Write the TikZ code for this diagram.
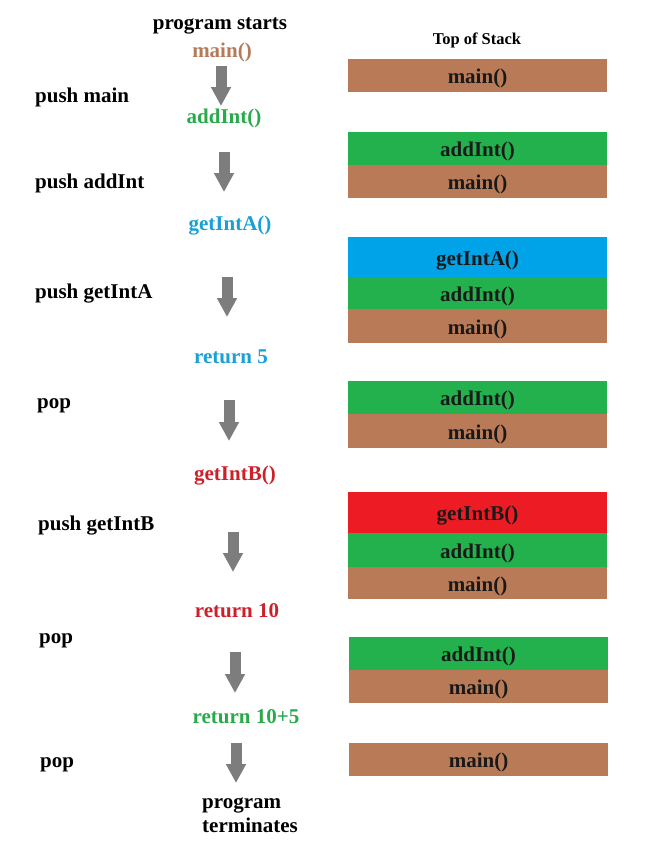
\documentclass[tikz,border=0pt]{standalone}
\usepackage{fontspec}
\setmainfont{Liberation Serif}
\usetikzlibrary{arrows.meta}
\definecolor{cbrown}{RGB}{185,122,87}
\definecolor{cgreen}{RGB}{34,177,76}
\definecolor{cblue}{RGB}{0,162,232}
\definecolor{cred}{RGB}{237,28,36}
\definecolor{tbrown}{RGB}{180,122,90}
\definecolor{tgreen}{RGB}{40,170,75}
\definecolor{tblue}{RGB}{25,160,215}
\definecolor{tred}{RGB}{205,32,42}
\definecolor{agray}{RGB}{125,125,125}
\tikzset{
  lbl/.style={font=\fontsize{21}{25}\selectfont\bfseries, inner sep=0pt},
  side/.style={lbl, anchor=base west, text=black},
  flow/.style={lbl, anchor=base},
  stk/.style={lbl, minimum width=259pt, inner sep=0pt, text height=16pt, text depth=0pt, text=black!90, anchor=center},
  bigarrow/.style={draw=agray, line width=11pt, -{Triangle[width=19pt,length=19pt]}},
}
\begin{document}
\begin{tikzpicture}[x=1pt,y=-1pt]
\useasboundingbox (0,0) rectangle (650,847);
% left column
\node[flow] (start) at (220,29) {program starts};
\node[flow, text=tbrown] (fmain) at (222,57) {main()};
\node[flow, text=tgreen] (fadd) at (224,123) {addInt()};
\node[flow, text=tblue] (fgetA) at (230,230) {getIntA()};
\node[flow, text=tblue] (fret5) at (231,363) {return 5};
\node[flow, text=tred] (fgetB) at (235,480) {getIntB()};
\node[flow, text=tred] (fret10) at (237,617) {return 10};
\node[flow, text=tgreen] (fret15) at (246,723) {return 10+5};
\node[lbl, anchor=base west] (term1) at (202,808) {program};
\node[lbl, anchor=base west] (term2) at (202,832) {terminates};

\node[side] (p1) at (35,102) {push main};
\node[side] (p2) at (35,188) {push addInt};
\node[side] (p3) at (35,298) {push getIntA};
\node[side] (p4) at (37,408) {pop};
\node[side] (p5) at (38,530) {push getIntB};
\node[side] (p6) at (39,643) {pop};
\node[side] (p7) at (40,767) {pop};

% arrows
\coordinate (a1t) at (221,66);  \coordinate (a1b) at (221,106);
\coordinate (a2t) at (224,152); \coordinate (a2b) at (224,192);
\coordinate (a3t) at (227,277); \coordinate (a3b) at (227,317);
\coordinate (a4t) at (229,400); \coordinate (a4b) at (229,441);
\coordinate (a5t) at (233,532); \coordinate (a5b) at (233,572);
\coordinate (a6t) at (235,652); \coordinate (a6b) at (235,693);
\coordinate (a7t) at (236,743); \coordinate (a7b) at (236,783);
\draw[bigarrow] (a1t) -- (a1b);
\draw[bigarrow] (a2t) -- (a2b);
\draw[bigarrow] (a3t) -- (a3b);
\draw[bigarrow] (a4t) -- (a4b);
\draw[bigarrow] (a5t) -- (a5b);
\draw[bigarrow] (a6t) -- (a6b);
\draw[bigarrow] (a7t) -- (a7b);

% stacks
\node[lbl, font=\fontsize{16.5}{20}\selectfont\bfseries, anchor=base] (top) at (477,44) {Top of Stack};

\node[stk, fill=cbrown, minimum height=33pt] (s1a) at (477.5,75.5) {main()};

\node[stk, fill=cgreen, minimum height=33pt] (s2a) at (477.5,148.5) {addInt()};
\node[stk, fill=cbrown, minimum height=33pt] (s2b) at (477.5,181.5) {main()};

\node[stk, fill=cblue, minimum height=40pt] (s3a) at (477.5,257) {getIntA()};
\node[stk, fill=cgreen, minimum height=32pt] (s3b) at (477.5,293) {addInt()};
\node[stk, fill=cbrown, minimum height=34pt] (s3c) at (477.5,326) {main()};

\node[stk, fill=cgreen, minimum height=33pt] (s4a) at (477.5,397.5) {addInt()};
\node[stk, fill=cbrown, minimum height=34pt] (s4b) at (477.5,431) {main()};

\node[stk, fill=cred, minimum height=41pt] (s5a) at (477.5,512.5) {getIntB()};
\node[stk, fill=cgreen, minimum height=34pt] (s5b) at (477.5,550) {addInt()};
\node[stk, fill=cbrown, minimum height=32pt] (s5c) at (477.5,583) {main()};

\node[stk, fill=cgreen, minimum height=33pt] (s6a) at (478.5,653.5) {addInt()};
\node[stk, fill=cbrown, minimum height=33pt] (s6b) at (478.5,686.5) {main()};

\node[stk, fill=cbrown, minimum height=33pt] (s7a) at (478.5,759.5) {main()};
\end{tikzpicture}
\end{document}
